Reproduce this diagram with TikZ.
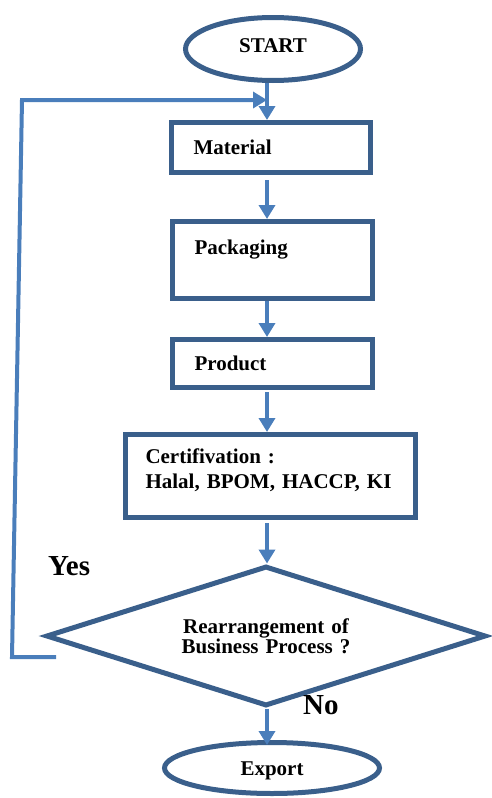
\documentclass[tikz,border=0pt]{standalone}
\usepackage{fontspec}
\setmainfont{Liberation Serif}
\usetikzlibrary{shapes.geometric,arrows.meta}
\definecolor{boxblue}{RGB}{58,95,139}
\definecolor{lineblue}{RGB}{74,126,187}

\begin{document}
\begin{tikzpicture}[x=1pt, y=-1pt,
		every node/.style={font=\bfseries\fontsize{21}{25}\selectfont, text height=14pt, text depth=0pt},
		stepbox/.style={draw=boxblue, line width=5pt, rectangle, align=left, inner xsep=22pt},
		oval/.style={draw=boxblue, line width=5pt, ellipse, inner sep=0pt},
		choice/.style={draw=boxblue, line width=5pt, diamond, aspect=3.1, inner sep=0pt, align=center},
		answer/.style={anchor=base west, inner sep=0pt, font=\bfseries\fontsize{29}{29}\selectfont, text height=, text depth=},
		flow/.style={draw=lineblue, line width=4pt, -{Triangle[width=16pt, length=14pt]}}]
			\useasboundingbox (0, 0) rectangle (491, 798);
			\node[oval, minimum width=175pt, minimum height=63pt, text depth=8pt] (A)at(273, 49) {START};
			\node[stepbox, text width=155pt, minimum height=50pt] (B)at(271, 147.5) {Material};
			\node[stepbox, text width=156pt, minimum height=77pt, text depth=25pt] (C)at(272.5, 260) {Packaging};
			\node[stepbox, text width=156pt, minimum height=48pt] (D)at(272.5, 363.5) {Product};
			\node[stepbox, text width=250pt, inner xsep=20pt, minimum height=83pt, text depth=40pt] (E)at(270.5, 476) {Certifivation :\\Halal, BPOM, HACCP, KI};
			\node[choice, font=\bfseries\fontsize{21}{20}\selectfont, text width=200pt, minimum width=440pt, minimum height=140pt, text depth=20pt] (F)at(266, 636) {Rearrangement of\\Business Process ?};
			\node[oval, minimum width=215pt, minimum height=51pt] (G)at(272, 768) {Export};
			\node[answer] (Y)at(48, 575) {Yes};
			\node[answer] (N)at(303, 714) {No};
			\coordinate (J)at(267, 100);
			\coordinate (K)at(22, 100);
			\coordinate (L)at(12, 657);
			\coordinate (M)at(56, 657);
			\draw[flow] (A.south -| J) -- (B.north -| J);
			\draw[flow, shorten <=5pt] (B.south -| J) -- (C.north -| J);
			\draw[flow] (C.south -| J) -- (D.north -| J);
			\draw[flow, shorten <=2pt] (D.south -| J) -- (E.north -| J);
			\draw[flow, shorten <=3pt] (E.south -| J) -- (F.north -| J);
			\draw[flow, shorten >=-5pt] (F.south -| J) -- (G.north -| J);
			\draw[flow, line join=miter] (M) -- (L) -- (K) -- (J);
		\end{tikzpicture}
\end{document}
